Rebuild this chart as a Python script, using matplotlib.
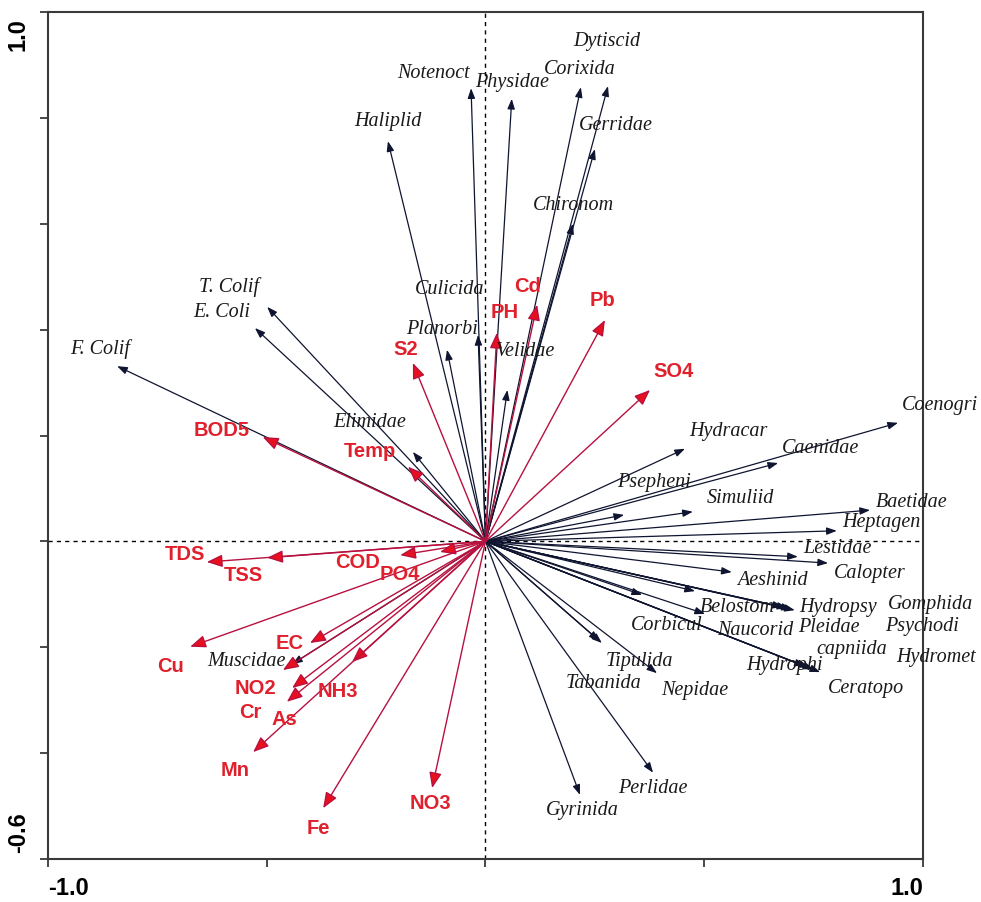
import matplotlib
matplotlib.use("Agg")
import matplotlib.pyplot as plt
from matplotlib.patches import FancyArrowPatch
import matplotlib.transforms as mtransforms

# ---------------- data ----------------
species_names = ["Notenoct", "Physidae", "Corixida", "Dytiscid", "Gerridae", "Chironom",
                 "Haliplid", "Culicida", "Planorbi", "Velidae", "Elimidae", "T. Colif",
                 "E. Coli", "F. Colif", "Muscidae", "Hydracar", "Coenogri", "Caenidae",
                 "Psepheni", "Simuliid", "Baetidae", "Heptagen", "Lestidae", "Calopter",
                 "Aeshinid", "Belostom", "Corbicul", "Naucorid", "Hydropsy", "Pleidae",
                 "Gomphida", "Psychodi", "Ceratopo", "Hydrophi", "capniida", "Hydromet",
                 "Tipulida", "Tabanida", "Nepidae", "Perlidae", "Gyrinida"]
species_x = [-0.033, 0.060, 0.218, 0.280, 0.250, 0.200,
             -0.223, -0.017, -0.088, 0.050, -0.166, -0.499,
             -0.527, -0.842, -0.442, 0.456, 0.943, 0.669,
             0.317, 0.474, 0.879, 0.803, 0.714, 0.783,
             0.563, 0.479, 0.358, 0.502, 0.707, 0.700,
             0.690, 0.680, 0.765, 0.750, 0.740, 0.730,
             0.266, 0.260, 0.392, 0.383, 0.216]
species_y = [0.856, 0.836, 0.858, 0.860, 0.741, 0.600,
             0.756, 0.390, 0.362, 0.286, 0.169, 0.443,
             0.403, 0.331, -0.232, 0.175, 0.224, 0.148,
             0.050, 0.056, 0.059, 0.020, -0.029, -0.041,
             -0.058, -0.094, -0.101, -0.137, -0.130, -0.128,
             -0.126, -0.124, -0.247, -0.242, -0.239, -0.236,
             -0.192, -0.188, -0.249, -0.437, -0.479]

env_names = ["Pb", "SO4", "Cd", "PH", "S2", "Temp", "BOD5", "TDS", "TSS", "COD",
             "PO4", "Cu", "EC", "NO2", "Cr", "As", "NH3", "Mn", "Fe", "NO3"]
env_x = [0.273, 0.376, 0.118, 0.026, -0.166, -0.177, -0.509, -0.637, -0.499, -0.195,
         -0.104, -0.675, -0.401, -0.463, -0.442, -0.454, -0.305, -0.531, -0.371, -0.122]
env_y = [0.418, 0.286, 0.447, 0.394, 0.337, 0.141, 0.197, -0.039, -0.031, -0.026,
         -0.020, -0.199, -0.192, -0.243, -0.277, -0.303, -0.228, -0.398, -0.504, -0.466]

x_ticks = [-1.0, -0.5, 0.0, 0.5, 1.0]
x_tick_labels = ["-1.0", "", "", "", "1.0"]
y_ticks = [-0.6, -0.4, -0.2, 0.0, 0.2, 0.4, 0.6, 0.8, 1.0]
y_tick_labels = ["-0.6", "", "", "", "", "", "", "", "1.0"]

# ---------------- label placement (offsets in pixels from arrow tip) ----------------
species_offsets = {
    "Notenoct": (-38, 15), "Physidae": (0, 16), "Corixida": (-1, 18), "Dytiscid": (-1, 45),
    "Gerridae": (21, 24), "Chironom": (0, 18), "Haliplid": (0, 20), "Culicida": (-28, 45),
    "Planorbi": (-5, 20), "Velidae": (18, 38), "Elimidae": (-43, 29), "T. Colif": (-38, 20),
    "E. Coli": (-33, 16), "F. Colif": (-17, 17), "Muscidae": (-46, 3), "Hydracar": (43, 17),
    "Coenogri": (42, 17), "Caenidae": (42, 15), "Psepheni": (30, 32), "Simuliid": (48, 13),
    "Baetidae": (42, 8), "Heptagen": (45, 8), "Lestidae": (40, 8), "Calopter": (42, -10),
    "Aeshinid": (41, -8), "Belostom": (42, -16), "Corbicul": (25, -31), "Naucorid": (50, -17),
    "Hydropsy": (43, 3), "Pleidae": (37, -18), "Gomphida": (143, 4), "Psychodi": (139, -19),
    "Ceratopo": (46, -16), "Hydrophi": (-29, 4), "capniida": (43, 18), "Hydromet": (131, 9),
    "Tipulida": (38, -18), "Tabanida": (4, -43), "Nepidae": (38, -17), "Perlidae": (0, -16),
    "Gyrinida": (2, -16),
}
env_offsets = {
    "Pb": (-2, 20), "SO4": (24, 18), "Cd": (-10, 18), "PH": (8, 20), "S2": (-7, 13),
    "Temp": (-38, 15), "BOD5": (-41, 7), "TDS": (-22, 8), "TSS": (-24, -18), "COD": (-43, -7),
    "PO4": (-40, -23), "Cu": (-20, -20), "EC": (-20, 0), "NO2": (-27, -18), "Cr": (-42, -24),
    "As": (-2, -18), "NH3": (-14, -29), "Mn": (-18, -18), "Fe": (-5, -20), "NO3": (-2, -15),
}

# ---------------- figure ----------------
fig = plt.figure(figsize=(9.81, 9.02), dpi=100)
ax = fig.add_axes([48 / 981, 1 - 859 / 902, (923 - 48) / 981, (859 - 12) / 902])
ax.set_xlim(-1.0, 1.0)
ax.set_ylim(-0.6, 1.0)

ax.axhline(0, color="black", lw=1.0, ls=(0, (3, 3)), zorder=1)
ax.axvline(0, color="black", lw=1.0, ls=(0, (3, 3)), zorder=1)

sp_color = "#0f1530"
for name, x, y in zip(species_names, species_x, species_y):
    arr = FancyArrowPatch((0, 0), (x, y), arrowstyle="-|>,head_length=0.6,head_width=0.22",
                          mutation_scale=10, lw=0.9, color=sp_color,
                          shrinkA=0, shrinkB=0, zorder=3)
    ax.add_patch(arr)
    dx, dy = species_offsets[name]
    ax.annotate(name, xy=(x, y), xytext=(dx, dy), textcoords="offset pixels",
                ha="center", va="center", fontsize=14.5, style="italic",
                family=["Liberation Serif", "DejaVu Serif"], color="#1a1a1a", zorder=5)

for name, x, y in zip(env_names, env_x, env_y):
    arr = FancyArrowPatch((0, 0), (x, y), arrowstyle="-|>,head_length=0.95,head_width=0.38",
                          mutation_scale=10, lw=1.0, edgecolor="#b8103f", facecolor="#e8101f",
                          shrinkA=0, shrinkB=0, zorder=4)
    ax.add_patch(arr)
    dx, dy = env_offsets[name]
    ax.annotate(name, xy=(x, y), xytext=(dx, dy), textcoords="offset pixels",
                ha="center", va="center", fontsize=14.5, fontweight="bold",
                family=["Liberation Sans", "DejaVu Sans"], color="#e0202c", zorder=6)

for s in ax.spines.values():
    s.set_color("#3a3a3a")
    s.set_linewidth(1.5)

ax.set_xticks(x_ticks)
ax.set_xticklabels(x_tick_labels)
ax.set_yticks(y_ticks)
ax.set_yticklabels(y_tick_labels, rotation=90)
ax.tick_params(direction="out", length=6, width=1.3, color="#3a3a3a", labelsize=17, pad=7)
for lab in ax.get_xticklabels() + ax.get_yticklabels():
    lab.set_fontfamily(["Liberation Sans", "DejaVu Sans"])
    lab.set_fontweight("bold")
xl = ax.get_xticklabels()
xl[0].set_ha("left")
xl[-1].set_ha("right")
yl = ax.get_yticklabels()
yl[0].set_va("bottom")
yl[-1].set_va("top")
# nudge the end labels of the y axis inwards a little, as in the reference
yl[-1].set_transform(yl[-1].get_transform() +
                     mtransforms.ScaledTranslation(0, -6 / 100, fig.dpi_scale_trans))
yl[0].set_transform(yl[0].get_transform() +
                    mtransforms.ScaledTranslation(0, 6 / 100, fig.dpi_scale_trans))

fig.savefig("out.png", dpi=100)
